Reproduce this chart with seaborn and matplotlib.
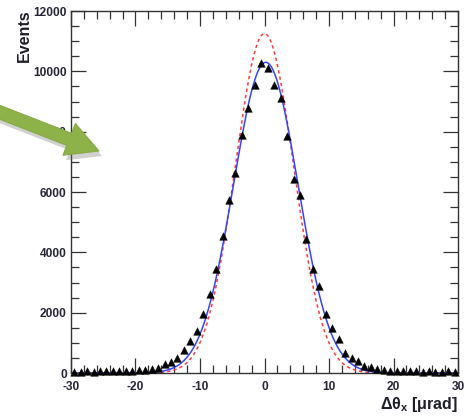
import numpy as np
import pandas as pd
import matplotlib
matplotlib.use("Agg")
import matplotlib.pyplot as plt
from matplotlib.patches import Polygon
from matplotlib.ticker import MultipleLocator
import seaborn as sns

# Measured angular distribution: bin centres [urad] and counts per 1-urad bin
bin_centres = [x + 0.5 for x in range(-30, 30)]
events = [
    40, 45, 50, 45, 55, 50, 55, 60, 55, 65,
    90, 110, 125, 180, 285, 375, 510, 770, 1050, 1400,
    1950, 2610, 3440, 4540, 5740, 6640, 7890, 8790, 9550, 10290,
    10100, 9550, 9100, 7870, 6420, 5900, 4430, 3450, 2900, 1960,
    1480, 1140, 650, 510, 400, 230, 190, 145, 100, 80,
    60, 55, 50, 55, 45, 50, 45, 40, 50, 40,
]

# Gaussian fit (blue) and expected resolution curve (red): amplitude, mean, sigma
fit_params = {"amp": 10300.0, "mean": 0.2, "sigma": 5.0}
expected_params = {"amp": 11250.0, "mean": 0.0, "sigma": 4.55}

x_ticks = [-30, -20, -10, 0, 10, 20, 30]
y_ticks = [0, 2000, 4000, 6000, 8000, 10000, 12000]

sns.set_theme(style="ticks")
plt.rcParams["font.family"] = ["Liberation Sans", "DejaVu Sans"]
plt.rcParams["mathtext.fontset"] = "custom"
plt.rcParams["mathtext.rm"] = "Liberation Sans:bold"
plt.rcParams["mathtext.it"] = "Liberation Sans:bold"
plt.rcParams["mathtext.bf"] = "Liberation Sans:bold"

W, H = 472, 418
fig = plt.figure(figsize=(W / 100, H / 100), dpi=100)
fig.patch.set_facecolor("white")
ax = fig.add_axes([71 / W, 1 - 373 / H, (458 - 71) / W, (373 - 11) / H])


def gauss(x, p):
    return p["amp"] * np.exp(-0.5 * ((x - p["mean"]) / p["sigma"]) ** 2)


xs = np.linspace(-30, 30, 1201)
curves = pd.DataFrame({
    "x": np.concatenate([xs, xs]),
    "y": np.concatenate([gauss(xs, fit_params), gauss(xs, expected_params)]),
    "curve": ["fit"] * len(xs) + ["expected"] * len(xs),
})
data = pd.DataFrame({"x": bin_centres, "events": events})

sns.lineplot(data=curves[curves.curve == "expected"], x="x", y="y", ax=ax,
             color="#ff3b3b", lw=1.1, linestyle=(0, (2.2, 2.0)), legend=False)
sns.lineplot(data=curves[curves.curve == "fit"], x="x", y="y", ax=ax,
             color="#3344ff", lw=1.1, legend=False)
sns.scatterplot(data=data, x="x", y="events", ax=ax, marker="^", s=30,
                color="black", edgecolor="black", linewidth=0.3, zorder=5,
                clip_on=False)

ax.set_xlim(-30, 30)
ax.set_ylim(0, 12000)
ax.set_xticks(x_ticks)
ax.set_yticks(y_ticks)
ax.xaxis.set_minor_locator(MultipleLocator(2))
ax.yaxis.set_minor_locator(MultipleLocator(500))
ax.set_xticklabels([str(t) for t in x_ticks])
ax.set_yticklabels([str(t) for t in y_ticks])
ax.set_xlabel("")
ax.set_ylabel("")

tick_col = "#262636"
ax.tick_params(which="both", direction="in", top=True, right=True,
               color="#333333", width=0.9)
ax.tick_params(which="major", length=11)
ax.tick_params(which="minor", length=5.5)
ax.tick_params(axis="x", which="major", pad=5.5, labelsize=8.6, labelcolor=tick_col)
ax.tick_params(axis="y", which="major", pad=3, labelsize=8.6, labelcolor=tick_col)
for lab in ax.get_xticklabels() + ax.get_yticklabels():
    lab.set_fontweight("bold")
for sp in ax.spines.values():
    sp.set_color("#333333")
    sp.set_linewidth(1.0)

fig.text(24 / W, 1 - 9 / H, "Events", rotation=90, ha="center", va="top",
         fontsize=11.5, fontweight="bold", color="#1f1f2a")
fig.text(458 / W, 1 - 404 / H, r"$\Delta\theta_{x}$ [$\mu$rad]", ha="right",
         va="center", fontsize=11.5, fontweight="bold", color="#1f1f2a")


# Callout arrow pointing at the left flank of the distribution (pixel geometry)
def arrow_pts(tail, tip, shaft_hw, head_hw, head_len):
    tail = np.array(tail, float)
    tip = np.array(tip, float)
    d = (tip - tail) / np.linalg.norm(tip - tail)
    n = np.array([-d[1], d[0]])
    base = tip - head_len * d
    pts = [tail + shaft_hw * n, base + shaft_hw * n, base + head_hw * n, tip,
           base - head_hw * n, base - shaft_hw * n, tail - shaft_hw * n]
    return [(p[0] / W, 1 - p[1] / H) for p in pts]


shadow = Polygon(arrow_pts((-6, 114), (102, 156), 6.5, 17, 32),
                 closed=True, transform=fig.transFigure, facecolor="#7a7a7a",
                 edgecolor="none", alpha=0.35, zorder=10)
arrow = Polygon(arrow_pts((-6, 110), (99, 151), 6.5, 17, 32),
                closed=True, transform=fig.transFigure, facecolor="#8db24a",
                edgecolor="#86aa45", lw=0.8, zorder=11)
fig.patches.extend([shadow, arrow])

fig.savefig("out.png", dpi=100, facecolor="white")
